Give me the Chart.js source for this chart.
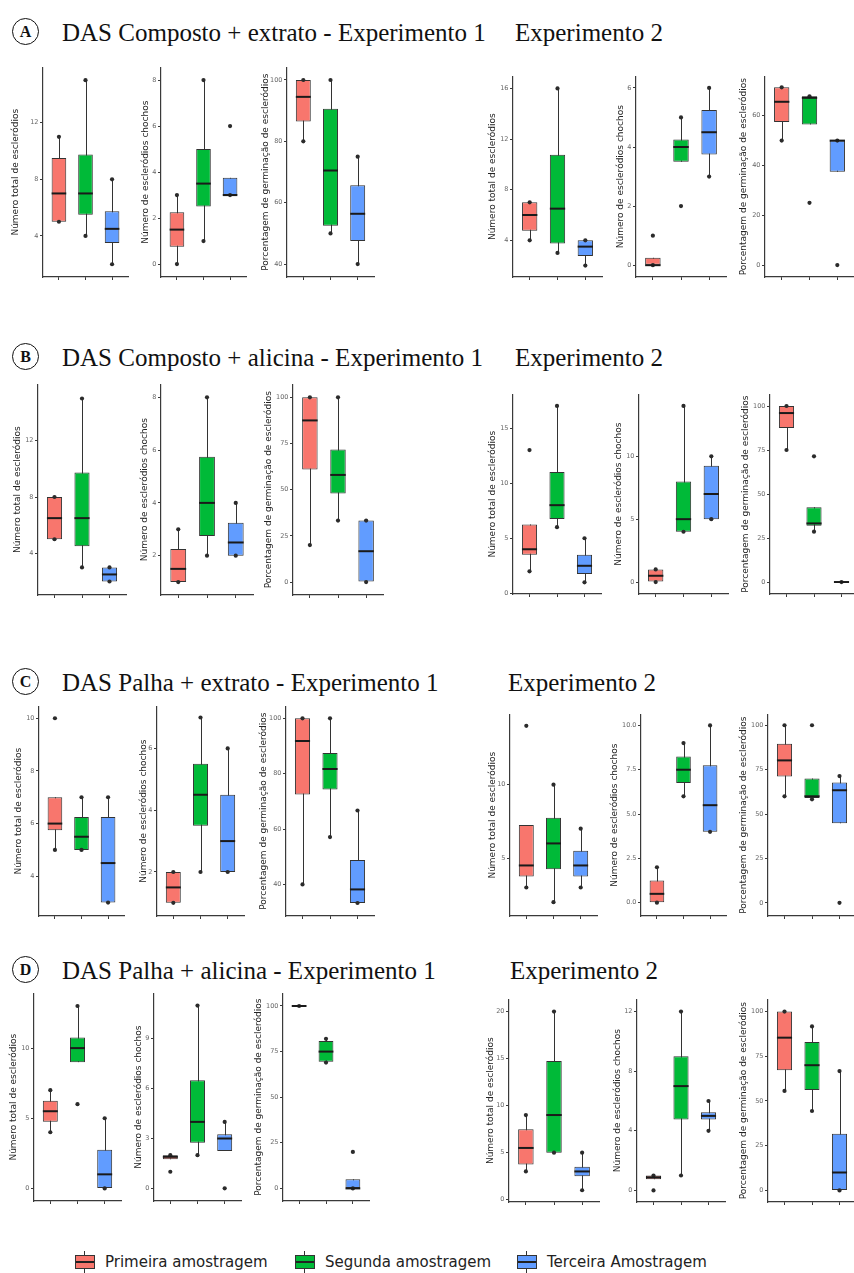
<!DOCTYPE html>
<html lang="pt">
<head>
<meta charset="utf-8">
<title>Escleródios - boxplots</title>
<script src="https://cdn.jsdelivr.net/npm/chart.js@4.4.1/dist/chart.umd.min.js"></script>
<style>
  html, body { margin: 0; padding: 0; background: #fff; }
  body { width: 854px; height: 1273px; position: relative; overflow: hidden; font-family: "DejaVu Sans", sans-serif; }
  canvas { position: absolute; }
  .tag {
    position: absolute; width: 25px; height: 25px; margin: -14px 0 0 -14px;
    border: 1.5px solid #111; border-radius: 50%;
    font: bold 16px "Liberation Serif", serif; color: #111;
    display: flex; align-items: center; justify-content: center;
  }
  .title { position: absolute; font: 25px "Liberation Serif", serif; color: #111; white-space: nowrap; line-height: 1; transform: translateY(-50%); }
  .leg { position: absolute; top: 1262px; transform: translateY(-50%); display: flex; align-items: center; font-size: 15px; color: #222; white-space: nowrap; }
  .key { position: relative; width: 18px; height: 12px; border: 1px solid #333; margin-right: 10px; }
  .key::before { content: ""; position: absolute; left: 0; right: 0; top: 5px; height: 2px; background: #222; }
  .key::after { content: ""; position: absolute; left: 8px; width: 1px; top: -5px; height: 22px; background: #333; z-index: -1; }
</style>
</head>
<body>
<script>
// ─── DATA ──────────────────────────────────────────
const groups = ['Primeira amostragem', 'Segunda amostragem', 'Terceira Amostragem'];
const yTitles = ['Número total de escleródios', 'Número de escleródios chochos', 'Porcentagem de germinação de escleródios'];
const rowTags = ['A', 'B', 'C', 'D'];
const rowTitles = [
    'DAS Composto + extrato - Experimento 1',
    'DAS Composto + alicina - Experimento 1',
    'DAS Palha + extrato - Experimento 1',
    'DAS Palha + alicina - Experimento 1',
];
const expTitle = 'Experimento 2';

// box per group: [lower whisker, q1, median, q3, upper whisker]; pts = dots drawn
const A1_box = [[5, 5, 7, 9.5, 11], [4, 5.5, 7, 9.75, 15], [2, 3.5, 4.5, 5.75, 8]];
const A1_pts = [[5, 11], [4, 15], [2, 8]];
const A1_ticks = [4, 8, 12];
const A2_box = [[0, 0.75, 1.5, 2.25, 3], [1, 2.5, 3.5, 5, 8], [3, 3, 3, 3.75, 3.75]];
const A2_pts = [[0, 3], [1, 8], [3, 6]];
const A2_ticks = [0, 2, 4, 6, 8];
const A3_box = [[80, 86.5, 94.5, 100, 100], [50, 52.5, 70.5, 90.6, 100], [40, 47.5, 56.4, 65.7, 75]];
const A3_pts = [[80, 100], [50, 100], [40, 75]];
const A3_ticks = [40, 60, 80, 100];
const A4_box = [[4, 4.75, 6, 7, 7], [3, 3.75, 6.5, 10.75, 16], [2, 2.75, 3.5, 4, 4]];
const A4_pts = [[4, 7], [3, 16], [2, 4]];
const A4_ticks = [4, 8, 12, 16];
const A5_box = [[0, 0, 0, 0.25, 0.25], [3.5, 3.5, 4, 4.25, 5], [3, 3.75, 4.5, 5.25, 6]];
const A5_pts = [[0, 1], [2, 5], [3, 6]];
const A5_ticks = [0, 2, 4, 6];
const A6_box = [[50, 57.5, 65.6, 71.4, 71.4], [56.5, 56.5, 67.2, 67.8, 67.8], [37.5, 37.5, 50, 50, 50]];
const A6_pts = [[50, 71.4], [25, 67.8], [0, 50]];
const A6_ticks = [0, 20, 40, 60];

const B1_box = [[5, 5, 6.5, 8, 8], [3, 4.5, 6.5, 9.75, 15], [2, 2, 2.5, 3, 3]];
const B1_pts = [[5, 8], [3, 15], [2, 3]];
const B1_ticks = [4, 8, 12];
const B2_box = [[1, 1, 1.5, 2.25, 3], [2, 2.75, 4, 5.75, 8], [2, 2, 2.5, 3.25, 4]];
const B2_pts = [[1, 3], [2, 8], [2, 4]];
const B2_ticks = [2, 4, 6, 8];
const B3_box = [[20, 61, 87.5, 100, 100], [33.3, 48, 58, 71.7, 100], [0, 0, 16.7, 33.3, 33.3]];
const B3_pts = [[20, 100], [33.3, 100], [0, 33.3]];
const B3_ticks = [0, 25, 50, 75, 100];
const B4_box = [[2, 3.5, 4, 6.25, 6.25], [6, 6.75, 8, 11, 17], [1, 1.75, 2.5, 3.5, 5]];
const B4_pts = [[2, 13], [6, 17], [1, 5]];
const B4_ticks = [0, 5, 10, 15];
const B5_box = [[0, 0, 0.5, 1, 1], [4, 4, 5, 8, 14], [5, 5, 7, 9.25, 10]];
const B5_pts = [[0, 1], [4, 14], [5, 10]];
const B5_ticks = [0, 5, 10];
const B6_box = [[75, 87.5, 96, 100, 100], [28.6, 32, 33.3, 42.5, 42.5], [0, 0, 0, 0, 0]];
const B6_pts = [[75, 100], [28.6, 71.4], [0]];
const B6_ticks = [0, 25, 50, 75, 100];

const C1_box = [[5, 5.75, 6, 7, 7], [5, 5, 5.5, 6.25, 7], [3, 3, 4.5, 6.25, 7]];
const C1_pts = [[5, 10], [5, 7], [3, 7]];
const C1_ticks = [4, 6, 8, 10];
const C2_box = [[1, 1, 1.5, 2, 2], [2, 3.5, 4.5, 5.5, 7], [2, 2, 3, 4.5, 6]];
const C2_pts = [[1, 2], [2, 7], [2, 6]];
const C2_ticks = [2, 4, 6];
const C3_box = [[40, 72.5, 91.8, 100, 100], [57.1, 74.3, 81.7, 87.5, 100], [33.3, 33.3, 38.2, 48.8, 66.7]];
const C3_pts = [[40, 100], [57.1, 100], [33.3, 66.7]];
const C3_ticks = [40, 60, 80, 100];
const C4_box = [[3, 3.75, 4.5, 7.25, 7.25], [2, 4.25, 6, 7.75, 10], [3, 3.75, 4.5, 5.5, 7]];
const C4_pts = [[3, 14], [2, 10], [3, 7]];
const C4_ticks = [5, 10];
const C5_box = [[0, 0, 0.5, 1.25, 2], [6, 6.75, 7.5, 8.25, 9], [4, 4, 5.5, 7.75, 10]];
const C5_pts = [[0, 2], [6, 9], [4, 10]];
const C5_ticks = [0, 2.5, 5, 7.5, 10];
const C6_box = [[60, 71.1, 80.2, 89.6, 100], [58.3, 59, 60, 70, 70], [44.8, 44.8, 63.4, 67.8, 71.4]];
const C6_pts = [[60, 100], [58.3, 100], [0, 71.4]];
const C6_ticks = [0, 25, 50, 75, 100];

const D1_box = [[4, 4.75, 5.5, 6.25, 7], [9, 9, 10, 10.75, 13], [0, 0, 1, 2.75, 5]];
const D1_pts = [[4, 7], [6, 13], [0, 5]];
const D1_ticks = [0, 5, 10];
const D2_box = [[1.75, 1.75, 1.9, 2, 2], [2, 2.75, 4, 6.5, 11], [2.25, 2.25, 3, 3.25, 4]];
const D2_pts = [[1, 2], [2, 11], [0, 4]];
const D2_ticks = [0, 3, 6, 9];
const D3_box = [[100, 100, 100, 100, 100], [69, 69.5, 75, 80.8, 82], [0, 0, 0, 5, 5]];
const D3_pts = [[100], [69, 82], [0, 20]];
const D3_ticks = [0, 25, 50, 75, 100];
const D4_box = [[3, 3.75, 5.5, 7.5, 9], [5, 5, 9, 14.75, 20], [1, 2.5, 3, 3.5, 5]];
const D4_pts = [[3, 9], [5, 20], [1, 5]];
const D4_ticks = [0, 5, 10, 15, 20];
const D5_box = [[0.75, 0.75, 0.875, 1, 1], [1, 4.75, 7, 9, 12], [4, 4.75, 5, 5.25, 6]];
const D5_pts = [[0, 1], [1, 12], [4, 6]];
const D5_ticks = [0, 4, 8, 12];
const D6_box = [[55.6, 67.2, 85.4, 100, 100], [44.4, 56.1, 70, 83, 91.7], [0, 0, 10, 31.7, 66.7]];
const D6_pts = [[55.6, 100], [44.4, 91.7], [0, 66.7]];
const D6_ticks = [0, 25, 50, 75, 100];

// ─── LAYOUT ────────────────────────────────────────
const fills = ['#F8766D', '#00BA38', '#619CFF'];
const rowY = [32, 357, 682, 970];
const expX = [515, 515, 508, 510];
const legendX = [75, 295, 517];

// axis = x of y-axis line, right = end of x-axis, titleX = centre of y title
const panels = [
    { box: A1_box, pts: A1_pts, ticks: A1_ticks, range: [1.1, 15.9], t: 0, axis: 43, right: 132, titleX: 15, top: 66, bottom: 277 },
    { box: A2_box, pts: A2_pts, ticks: A2_ticks, range: [-0.56, 8.55], t: 1, axis: 161, right: 250, titleX: 145, top: 66, bottom: 277 },
    { box: A3_box, pts: A3_pts, ticks: A3_ticks, range: [35.8, 104.1], t: 2, axis: 287, right: 378, titleX: 265, top: 66, bottom: 277 },
    { box: A4_box, pts: A4_pts, ticks: A4_ticks, range: [1.1, 16.95], t: 0, axis: 513, right: 606, titleX: 492, top: 75, bottom: 277 },
    { box: A5_box, pts: A5_pts, ticks: A5_ticks, range: [-0.4, 6.39], t: 1, axis: 636, right: 730, titleX: 620, top: 75, bottom: 277 },
    { box: A6_box, pts: A6_pts, ticks: A6_ticks, range: [-4.8, 75.8], t: 2, axis: 765, right: 858, titleX: 743, top: 75, bottom: 277 },

    { box: B1_box, pts: B1_pts, ticks: B1_ticks, range: [1.04, 16.0], t: 0, axis: 38, right: 130, titleX: 17, top: 383, bottom: 595 },
    { box: B2_box, pts: B2_pts, ticks: B2_ticks, range: [0.51, 8.49], t: 1, axis: 161, right: 257, titleX: 144, top: 383, bottom: 595 },
    { box: B3_box, pts: B3_pts, ticks: B3_ticks, range: [-7, 107], t: 2, axis: 293, right: 387, titleX: 268, top: 383, bottom: 595 },
    { box: B4_box, pts: B4_pts, ticks: B4_ticks, range: [-0.06, 18.05], t: 0, axis: 513, right: 605, titleX: 492, top: 393, bottom: 594 },
    { box: B5_box, pts: B5_pts, ticks: B5_ticks, range: [-0.95, 14.92], t: 1, axis: 639, right: 732, titleX: 618, top: 393, bottom: 594 },
    { box: B6_box, pts: B6_pts, ticks: B6_ticks, range: [-6.8, 106.6], t: 2, axis: 770, right: 862, titleX: 745, top: 393, bottom: 594 },

    { box: C1_box, pts: C1_pts, ticks: C1_ticks, range: [2.49, 10.45], t: 0, axis: 39, right: 128, titleX: 18, top: 705, bottom: 916 },
    { box: C2_box, pts: C2_pts, ticks: C2_ticks, range: [0.575, 7.36], t: 1, axis: 157, right: 248, titleX: 143, top: 705, bottom: 916 },
    { box: C3_box, pts: C3_pts, ticks: C3_ticks, range: [28.6, 104.3], t: 2, axis: 286, right: 378, titleX: 263, top: 705, bottom: 916 },
    { box: C4_box, pts: C4_pts, ticks: C4_ticks, range: [1.06, 14.78], t: 0, axis: 510, right: 601, titleX: 492, top: 713, bottom: 916 },
    { box: C5_box, pts: C5_pts, ticks: C5_ticks, range: [-0.75, 10.62], t: 1, axis: 641, right: 730, titleX: 614, top: 713, bottom: 916 },
    { box: C6_box, pts: C6_pts, ticks: C6_ticks, range: [-7.4, 106.1], t: 2, axis: 768, right: 860, titleX: 743, top: 713, bottom: 916 },

    { box: D1_box, pts: D1_pts, ticks: D1_ticks, range: [-0.9, 13.9], t: 0, axis: 34, right: 125, titleX: 13, top: 992, bottom: 1201 },
    { box: D2_box, pts: D2_pts, ticks: D2_ticks, range: [-0.76, 11.73], t: 1, axis: 154, right: 245, titleX: 138, top: 992, bottom: 1201 },
    { box: D3_box, pts: D3_pts, ticks: D3_ticks, range: [-6.9, 106.9], t: 2, axis: 283, right: 373, titleX: 258, top: 992, bottom: 1201 },
    { box: D4_box, pts: D4_pts, ticks: D4_ticks, range: [-0.25, 21.3], t: 0, axis: 509, right: 603, titleX: 490, top: 998, bottom: 1202 },
    { box: D5_box, pts: D5_pts, ticks: D5_ticks, range: [-0.78, 12.82], t: 1, axis: 637, right: 729, titleX: 617, top: 998, bottom: 1202 },
    { box: D6_box, pts: D6_pts, ticks: D6_ticks, range: [-6.5, 106.8], t: 2, axis: 768, right: 860, titleX: 743, top: 998, bottom: 1202 },
];

const PAD_TOP = 4;
const X_AXIS_H = 6;
const AXIS_COLOR = '#3a3a3a';

// ─── BOX PLUGIN (whiskers + median) ────────────────
function boxPlugin(box) {
    return {
        id: 'boxWhisker',
        beforeDatasetsDraw(chart) {
            const { ctx, scales: { x, y } } = chart;
            ctx.save();
            ctx.strokeStyle = '#333';
            ctx.lineWidth = 1;
            box.forEach((b, i) => {
                const px = Math.round(x.getPixelForValue(i + 1)) + 0.5;
                ctx.beginPath();
                ctx.moveTo(px, y.getPixelForValue(b[0]));
                ctx.lineTo(px, y.getPixelForValue(b[4]));
                ctx.stroke();
            });
            ctx.restore();
        },
        afterDatasetsDraw(chart) {
            const { ctx, scales: { y } } = chart;
            const bars = chart.getDatasetMeta(0).data;
            ctx.save();
            ctx.strokeStyle = '#1a1a1a';
            ctx.lineWidth = 2;
            bars.forEach((bar, i) => {
                const py = y.getPixelForValue(box[i][2]);
                ctx.beginPath();
                ctx.moveTo(bar.x - bar.width / 2, py);
                ctx.lineTo(bar.x + bar.width / 2, py);
                ctx.stroke();
            });
            ctx.restore();
        },
    };
}

function fmtTick(ticks) {
    const dec = ticks.some(v => v % 1 !== 0) ? 1 : 0;
    return v => Number(v).toFixed(dec);
}

// ─── PANELS ────────────────────────────────────────
function drawPanel(p) {
    const W = Math.round(p.axis - p.titleX + 5.4);
    const width = W + (p.right - p.axis);
    const height = PAD_TOP + (p.bottom - p.top) + X_AXIS_H;

    const cv = document.createElement('canvas');
    cv.width = width;
    cv.height = height;
    cv.style.left = (p.axis - W) + 'px';
    cv.style.top = (p.top - PAD_TOP) + 'px';
    cv.style.width = width + 'px';
    cv.style.height = height + 'px';
    document.body.appendChild(cv);

    const tickGrid = { display: true, drawOnChartArea: false, drawTicks: true, tickLength: 3, color: AXIS_COLOR, lineWidth: 1 };
    const border = { display: true, color: AXIS_COLOR, width: 1.2 };

    new Chart(cv.getContext('2d'), {
        type: 'bar',
        data: {
            datasets: [
                {
                    type: 'bar',
                    label: 'box',
                    data: p.box.map((b, i) => ({ x: i + 1, y: [b[1], b[3]] })),
                    backgroundColor: fills,
                    borderColor: '#333',
                    borderWidth: 1,
                    borderSkipped: false,
                    barPercentage: 0.55,
                    categoryPercentage: 1,
                    order: 1,
                },
                {
                    type: 'scatter',
                    label: 'pts',
                    data: p.pts.flatMap((arr, i) => arr.map(v => ({ x: i + 1, y: v }))),
                    pointRadius: 2.1,
                    pointBackgroundColor: '#2b2b2b',
                    pointBorderWidth: 0,
                    order: 0,
                },
            ],
        },
        options: {
            responsive: false, maintainAspectRatio: false, animation: false,
            layout: { padding: { top: PAD_TOP, right: 0, bottom: 0, left: 0 } },
            plugins: { legend: { display: false }, tooltip: { enabled: false } },
            scales: {
                x: {
                    type: 'linear', min: 0.4, max: 3.6, offset: false,
                    afterBuildTicks: s => { s.ticks = [1, 2, 3].map(v => ({ value: v })); },
                    afterFit: s => { s.height = X_AXIS_H; },
                    ticks: { display: false },
                    grid: { ...tickGrid, offset: false },
                    border,
                },
                y: {
                    type: 'linear', min: p.range[0], max: p.range[1], beginAtZero: false,
                    afterBuildTicks: s => { s.ticks = p.ticks.map(v => ({ value: v })); },
                    afterFit: s => { s.width = W; },
                    ticks: { font: { family: 'DejaVu Sans', size: 6.5 }, color: '#666', padding: 1.5, callback: fmtTick(p.ticks) },
                    grid: tickGrid,
                    border,
                    title: { display: true, text: yTitles[p.t], font: { family: 'DejaVu Sans', size: 9 }, color: '#222', padding: 0 },
                },
            },
        },
        plugins: [boxPlugin(p.box)],
    });
}

// ─── TITLES + LEGEND ───────────────────────────────
function addTitles() {
    rowTags.forEach((tag, r) => {
        const c = document.createElement('div');
        c.className = 'tag';
        c.style.left = '26px';
        c.style.top = rowY[r] + 'px';
        c.textContent = tag;
        document.body.appendChild(c);

        const t = document.createElement('div');
        t.className = 'title';
        t.style.left = '62px';
        t.style.top = rowY[r] + 'px';
        t.textContent = rowTitles[r];
        document.body.appendChild(t);

        const e = document.createElement('div');
        e.className = 'title';
        e.style.left = expX[r] + 'px';
        e.style.top = rowY[r] + 'px';
        e.textContent = expTitle;
        document.body.appendChild(e);
    });
}

function addLegend() {
    groups.forEach((g, i) => {
        const item = document.createElement('div');
        item.className = 'leg';
        item.style.left = legendX[i] + 'px';
        item.innerHTML = `<span class="key" style="background:${fills[i]}"></span><span>${g}</span>`;
        document.body.appendChild(item);
    });
}

addTitles();
panels.forEach(drawPanel);
addLegend();
</script>
</body>
</html>
